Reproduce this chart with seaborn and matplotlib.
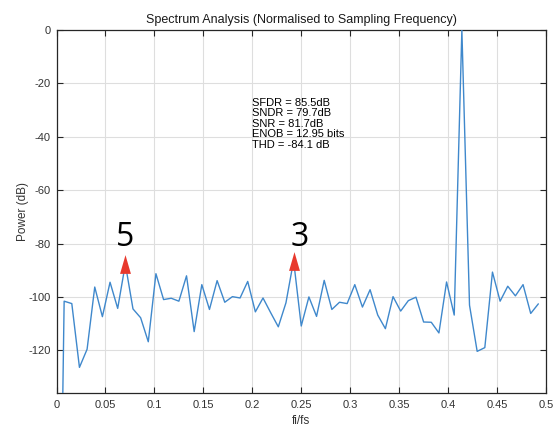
import numpy as np
import pandas as pd
import matplotlib
matplotlib.use("Agg")
import matplotlib.pyplot as plt
import seaborn as sns

# ---- data ----
bins = np.arange(64)
freq = bins / 128.0
power = [-300.0, -101.6, -102.5, -126.4, -119.6, -96.3, -107.4, -94.5, -104.3, -87.7,
         -104.5, -107.8, -116.8, -91.3, -101.0, -100.5, -101.6, -92.1, -113.0, -95.4,
         -104.7, -93.9, -102.0, -99.9, -100.4, -94.2, -105.6, -100.4, -105.9, -111.2,
         -102.2, -86.4, -110.9, -100.0, -107.3, -93.8, -104.7, -102.0, -102.5, -95.4,
         -103.8, -97.3, -106.8, -111.9, -99.9, -105.3, -101.4, -100.1, -109.4, -109.5,
         -113.5, -94.4, -106.8, 0.0, -103.1, -120.4, -119.0, -90.7, -101.6, -96.0,
         -99.6, -95.4, -106.2, -102.6]

harm_bins = [9, 31]
harm_labels = ["5", "3"]
harm_label_x = [0.0702, 0.2485]
harm_label_y = [-77.8, -77.8]

stats_lines = ["SFDR = 85.5dB", "SNDR = 79.7dB", "SNR = 81.7dB",
               "ENOB = 12.95 bits", "THD = -84.1 dB"]

xticks = [0, 0.05, 0.1, 0.15, 0.2, 0.25, 0.3, 0.35, 0.4, 0.45, 0.5]
xticklabels = ["0", "0.05", "0.1", "0.15", "0.2", "0.25", "0.3", "0.35", "0.4", "0.45", "0.5"]
yticks = [0, -20, -40, -60, -80, -100, -120]
yticklabels = ["0", "-20", "-40", "-60", "-80", "-100", "-120"]

df = pd.DataFrame({"freq": freq, "power": power})

# ---- style ----
sns.set_theme(style="white")
plt.rcParams["font.family"] = ["Liberation Sans", "DejaVu Sans"]

W, H = 554, 429
fig = plt.figure(figsize=(W / 100, H / 100), dpi=100)
left, right, top, bottom = 56.5, 546, 30, 393
ax = fig.add_axes([left / W, (H - bottom) / H, (right - left) / W, (bottom - top) / H])

sns.lineplot(data=df, x="freq", y="power", ax=ax, color="#3f88cc", linewidth=1.0, zorder=3)

# harmonic markers
tri = [(-0.29, -0.5), (0.29, -0.5), (0.0, 0.5)]
hx = [freq[b] for b in harm_bins]
hy = [power[b] for b in harm_bins]
ax.plot(hx, hy, linestyle="none", marker=tri, markersize=13.5,
        color="#e8392d", markeredgewidth=0, zorder=5)
for lab, x, y in zip(harm_labels, harm_label_x, harm_label_y):
    ax.text(x, y, lab, ha="center", va="center", fontsize=23,
            family=["Open Sans", "DejaVu Sans"], color="black", zorder=6)

ax.text(0.2, -35.1, "\n".join(stats_lines), ha="left", va="center",
        fontsize=8, linespacing=1.06, color="black", zorder=6)

ax.set_xlim(0, 0.5)
ax.set_ylim(-136, 0)
ax.set_xticks(xticks)
ax.set_xticklabels(xticklabels)
ax.set_yticks(yticks)
ax.set_yticklabels(yticklabels)

ax.grid(True, color="#dedede", linewidth=0.8)
ax.set_axisbelow(True)
for s in ax.spines.values():
    s.set_color("#262626")
    s.set_linewidth(0.9)
    s.set_visible(True)
ax.tick_params(axis="both", which="both", direction="in", length=4, width=0.8,
               top=True, right=True, bottom=True, left=True,
               labeltop=False, labelright=False, colors="#262626",
               labelsize=8, labelcolor="#333333")
ax.tick_params(axis="x", pad=5)
ax.tick_params(axis="y", pad=4)

ax.set_title("Spectrum Analysis (Normalised to Sampling Frequency)", fontsize=9,
             color="#1a1a1a", pad=5)
ax.set_xlabel("fi/fs", fontsize=8.5, color="#333333", labelpad=4)
ax.set_ylabel("Power (dB)", fontsize=8.5, color="#333333", labelpad=0)

fig.savefig("out.png", dpi=100)
